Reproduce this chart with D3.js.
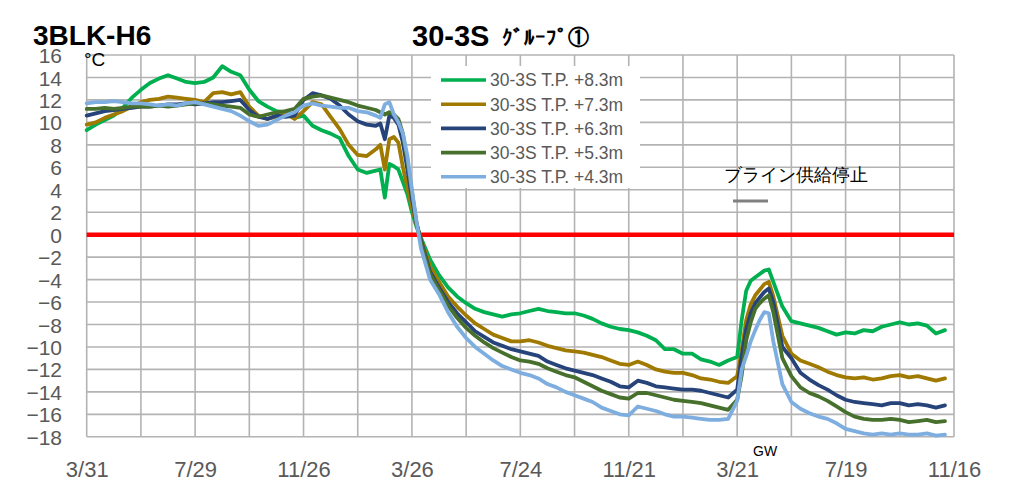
<!DOCTYPE html>
<html><head><meta charset="utf-8">
<script src="https://cdn.jsdelivr.net/npm/d3@7"></script>
<style>
html,body{margin:0;padding:0;background:#fff;}
svg{display:block;}
text{font-family:"Liberation Sans",Arial,sans-serif;}
</style></head>
<body><svg id="chart" width="1027" height="482"></svg>
<script>
// day offsets from 3/31 (start of record)
const days = [0,10,20,30,40,50,60,70,80,90,100,110,120,130,140,150,160,170,180,190,200,210,220,230,240,250,260,270,280,290,300,310,320,
 325,330,335,340,345,350,355,360,365,370,
 380,390,400,410,420,430,440,450,460,470,480,490,500,510,520,530,540,550,560,570,580,590,600,610,620,630,640,650,660,670,680,690,700,710,
 720,725,730,735,740,745,750,755,760,
 770,780,790,800,810,820,830,840,850,860,870,880,890,900,910,920,930,940,950];

const tp83 = [9.3,9.8,10.2,10.6,11.3,12.2,12.9,13.5,13.9,14.2,13.9,13.6,13.5,13.6,14.0,15.0,14.5,14.2,12.9,11.9,11.4,11.0,10.9,10.4,10.6,9.7,9.3,9.0,8.6,7.0,5.8,5.5,5.7,
 5.8,3.3,6.3,6.1,5.8,4.7,3.6,2.0,0.7,-0.3,
 -2.2,-3.6,-4.7,-5.5,-6.1,-6.6,-6.9,-7.1,-7.3,-7.1,-7.0,-6.8,-6.6,-6.8,-6.9,-7.0,-7.0,-7.2,-7.5,-7.9,-8.2,-8.4,-8.5,-8.7,-9.0,-9.4,-10.2,-10.2,-10.6,-10.6,-11.1,-11.3,-11.6,-11.2,
 -10.9,-7.6,-5.0,-4.1,-3.8,-3.5,-3.2,-3.1,-4.2,
 -6.4,-7.7,-7.9,-8.1,-8.3,-8.6,-8.9,-8.7,-8.8,-8.5,-8.6,-8.2,-8.0,-7.8,-8.0,-7.9,-8.1,-8.8,-8.5];

const tp73 = [9.8,10.0,10.4,10.7,11.0,11.4,11.8,12.0,12.1,12.3,12.2,12.1,12.0,11.8,12.6,12.7,12.5,12.7,11.4,10.6,10.3,10.5,10.8,10.3,11.0,11.8,11.6,10.5,9.4,8.0,7.1,7.0,7.6,
 8.0,5.8,8.5,8.7,8.2,6.0,4.2,2.4,0.9,-0.4,
 -2.8,-4.2,-5.5,-6.4,-7.2,-7.9,-8.4,-8.9,-9.2,-9.5,-9.5,-9.4,-9.6,-9.9,-10.1,-10.3,-10.4,-10.5,-10.7,-10.9,-11.2,-11.5,-11.6,-11.3,-11.6,-12.0,-12.2,-12.3,-12.3,-12.5,-12.8,-12.9,-13.1,-13.2,
 -12.6,-10.3,-7.6,-6.2,-5.4,-4.9,-4.4,-4.2,-5.5,
 -9.0,-10.6,-11.2,-11.5,-11.8,-12.2,-12.5,-12.7,-12.8,-12.7,-12.9,-12.8,-12.6,-12.5,-12.7,-12.6,-12.8,-13.0,-12.8];

const tp63 = [10.6,10.8,11.0,11.1,11.2,11.3,11.4,11.4,11.5,11.6,11.6,11.7,11.6,11.7,11.8,11.8,11.9,12.0,11.1,10.5,10.3,10.6,10.5,10.6,12.0,12.6,12.4,12.1,11.5,10.7,10.1,9.8,9.7,
 9.9,8.5,10.6,10.4,9.8,8.2,5.8,3.2,1.0,-0.5,
 -3.3,-4.7,-6.0,-7.0,-7.8,-8.6,-9.1,-9.6,-9.9,-10.2,-10.4,-10.6,-10.8,-11.3,-11.6,-11.9,-12.1,-12.3,-12.5,-12.8,-13.1,-13.5,-13.6,-13.0,-13.2,-13.5,-13.6,-13.7,-13.8,-13.8,-13.9,-14.1,-14.3,-14.5,
 -13.8,-10.8,-8.4,-7.0,-6.1,-5.6,-5.1,-4.8,-6.0,
 -10.0,-11.0,-12.3,-12.9,-13.4,-13.8,-14.3,-14.7,-14.9,-15.0,-15.1,-15.2,-15.0,-15.0,-15.2,-15.1,-15.2,-15.4,-15.2];

const tp53 = [11.2,11.2,11.3,11.2,11.3,11.4,11.4,11.4,11.5,11.4,11.5,11.6,11.7,11.7,11.6,11.5,11.4,11.3,10.7,10.5,10.7,10.9,11.0,11.2,12.1,12.3,12.4,12.2,12.0,11.8,11.5,11.3,11.1,
 10.9,10.7,10.9,10.7,10.3,9.0,6.5,3.8,1.1,-0.7,
 -3.5,-4.9,-6.3,-7.4,-8.3,-9.0,-9.6,-10.1,-10.5,-10.9,-11.2,-11.3,-11.5,-11.9,-12.2,-12.5,-12.7,-13.1,-13.5,-13.9,-14.2,-14.5,-14.6,-14.1,-14.1,-14.3,-14.5,-14.7,-14.8,-14.9,-15.0,-15.2,-15.4,-15.6,
 -14.7,-12.5,-9.4,-7.8,-6.6,-6.1,-5.7,-5.4,-6.9,
 -11.0,-12.6,-13.6,-14.1,-14.4,-14.8,-15.3,-15.8,-16.2,-16.4,-16.5,-16.5,-16.4,-16.5,-16.7,-16.6,-16.5,-16.7,-16.6];

const tp43 = [11.7,11.8,11.8,11.9,11.8,11.7,11.7,11.6,11.5,11.6,11.5,11.7,11.8,11.6,11.4,11.2,11.0,10.6,10.1,9.7,9.8,10.2,10.6,10.9,11.5,11.7,11.5,11.4,11.3,11.3,11.0,10.9,10.6,
 10.4,11.6,11.8,10.7,10.0,9.0,7.0,4.0,1.2,-1.2,
 -4.0,-5.3,-6.9,-8.2,-9.2,-10.0,-10.6,-11.2,-11.7,-12.0,-12.3,-12.5,-12.8,-13.3,-13.6,-14.0,-14.3,-14.6,-14.9,-15.4,-15.7,-16.0,-16.1,-15.3,-15.5,-15.7,-16.0,-16.2,-16.2,-16.3,-16.4,-16.5,-16.5,-16.4,
 -14.8,-12.0,-10.8,-9.5,-8.5,-7.6,-6.9,-7.0,-9.5,
 -13.3,-14.9,-15.5,-15.9,-16.2,-16.4,-16.8,-17.3,-17.5,-17.7,-17.8,-17.7,-17.8,-17.7,-17.8,-17.8,-17.7,-17.9,-17.8];

const seriesNames = ["30-3S T.P. +8.3m","30-3S T.P. +7.3m","30-3S T.P. +6.3m","30-3S T.P. +5.3m","30-3S T.P. +4.3m"];
const seriesValues = [tp83, tp73, tp63, tp53, tp43];
const seriesColors = ["#00B050","#A07A00","#26437A","#46702C","#7DAEDF"];

const xTickDays = [0,120,240,360,480,600,720,840,960];
const xTickLabels = ["3/31","7/29","11/26","3/26","7/24","11/21","3/21","7/19","11/16"];
const xGridDays = [0,60,120,180,240,300,360,420,480,540,600,660,720,780,840,900,960];
const yTicks = [-18,-16,-14,-12,-10,-8,-6,-4,-2,0,2,4,6,8,10,12,14,16];

const svg = d3.select("#chart");
const L = 86.7, R = 954, T = 55, B = 436.8;
const x = d3.scaleLinear().domain([0,960]).range([L,R]);
const y = d3.scaleLinear().domain([-18,16]).range([B,T]);

svg.append("rect").attr("width",1027).attr("height",482).attr("fill","#fff");

// grid
const grid = svg.append("g").attr("stroke","#b3b3b3").attr("stroke-width",1.6);
grid.selectAll("line.h").data(yTicks).join("line").attr("class","h")
  .attr("x1",L).attr("x2",R).attr("y1",d=>y(d)).attr("y2",d=>y(d));
grid.selectAll("line.v").data(xGridDays).join("line").attr("class","v")
  .attr("x1",d=>x(d)).attr("x2",d=>x(d)).attr("y1",T).attr("y2",B);

// y axis labels
const yAxis = d3.axisLeft(y).tickValues(yTicks).tickSize(0).tickPadding(0);
const gy = svg.append("g").attr("transform",`translate(62,0)`).call(yAxis);
gy.select(".domain").remove();
gy.selectAll("text").attr("font-size",21).attr("fill","#595959")
  .attr("font-family","'Liberation Sans',Arial,sans-serif").attr("dy","0.36em");

// x axis labels
const xAxis = d3.axisBottom(x).tickValues(xTickDays).tickSize(0).tickPadding(0)
  .tickFormat((d,i)=>xTickLabels[i]);
const gx = svg.append("g").attr("transform",`translate(0,461)`).call(xAxis);
gx.select(".domain").remove();
gx.selectAll("text").attr("font-size",22).attr("fill","#595959")
  .attr("font-family","'Liberation Sans',Arial,sans-serif").attr("dy","0.71em");

// zero line
svg.append("line").attr("x1",L).attr("x2",R).attr("y1",y(0)).attr("y2",y(0))
  .attr("stroke","#FF0000").attr("stroke-width",4.5);

// series
const line = d3.line().x((d,i)=>x(days[i])).y(d=>y(d));
seriesValues.forEach((vals,k)=>{
  svg.append("path").datum(vals).attr("d",line).attr("fill","none")
    .attr("stroke",seriesColors[k]).attr("stroke-width",3.8)
    .attr("stroke-linejoin","round").attr("stroke-linecap","round");
});

// legend
const lg = svg.append("g");
lg.append("rect").attr("x",431).attr("y",66).attr("width",209).attr("height",122).attr("fill","#fff");
seriesNames.forEach((n,k)=>{
  const yy = 80 + k*24.2;
  lg.append("line").attr("x1",441).attr("x2",486).attr("y1",yy).attr("y2",yy)
    .attr("stroke",seriesColors[k]).attr("stroke-width",3.6);
  lg.append("text").attr("x",490).attr("y",yy).attr("dy","0.36em")
    .attr("font-size",17.5).attr("fill","#595959").text(n);
});

// titles
svg.append("text").attr("x",33).attr("y",45).attr("font-size",28).attr("font-weight","bold")
  .attr("fill","#000").text("3BLK-H6");
svg.append("text").attr("x",84).attr("y",66).attr("font-size",19).attr("fill","#000").text("°C");
svg.append("text").attr("x",412).attr("y",46).attr("font-size",29).attr("font-weight","bold")
  .attr("fill","#000").text("30-3S");
svg.append("text").attr("x",502).attr("y",45).attr("font-size",21).attr("font-weight","bold")
  .attr("font-family","'Noto Sans CJK JP',sans-serif").attr("fill","#000").text("ｸﾞﾙｰﾌﾟ①");

// annotations
svg.append("text").attr("x",724).attr("y",181).attr("font-size",18)
  .attr("font-family","'Noto Sans CJK JP',sans-serif").attr("fill","#000").text("ブライン供給停止");
svg.append("line").attr("x1",733).attr("x2",768).attr("y1",201).attr("y2",201)
  .attr("stroke","#808080").attr("stroke-width",3);
svg.append("text").attr("x",753).attr("y",456).attr("font-size",14).attr("fill","#000").text("GW");
</script></body></html>
